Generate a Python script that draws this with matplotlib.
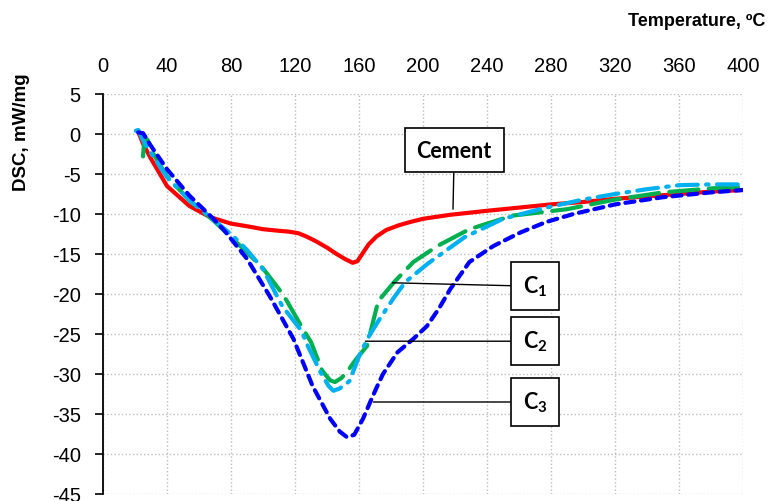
import matplotlib
matplotlib.use("Agg")
import matplotlib.pyplot as plt
import numpy as np

plt.rcParams['font.family'] = ['Liberation Sans', 'DejaVu Sans']
plt.rcParams['axes.unicode_minus'] = False
plt.rcParams['mathtext.fontset'] = 'custom'
plt.rcParams['mathtext.bf'] = 'Lato:bold'
plt.rcParams['mathtext.rm'] = 'Lato'

# DSC curves
cement_t = [22, 25, 30, 40, 54, 67, 80, 92, 100, 110, 116, 122, 127, 133, 140, 146, 151, 156,
            159, 162, 166, 171, 177, 185, 192, 200, 217, 240, 260, 280, 300, 320, 340, 360,
            380, 400]
cement_dsc = [0.3, -1.2, -3.1, -6.5, -9.0, -10.4, -11.2, -11.6, -11.9, -12.1, -12.2, -12.4,
              -12.8, -13.4, -14.2, -15.0, -15.6, -16.1, -15.9, -15.0, -13.8, -12.8, -12.0,
              -11.4, -11.0, -10.6, -10.1, -9.6, -9.2, -8.8, -8.5, -8.1, -7.8, -7.5, -7.2,
              -7.0]

c1_t = [25, 26, 28, 30, 40, 54, 69, 80, 90, 100, 110, 115, 125, 130, 137, 142, 145, 149,
        153, 158, 165, 172, 182, 194, 209, 229, 256, 290, 320, 350, 380, 400]
c1_dsc = [-2.8, -0.3, -0.8, -2.0, -5.3, -8.3, -10.8, -12.9, -14.8, -16.8, -19.4, -20.9,
          -24.4, -26.0, -29.6, -30.8, -31.0, -30.5, -29.6, -28.2, -26.5, -20.9, -18.5,
          -16.0, -14.0, -11.9, -10.2, -9.4, -8.2, -7.3, -6.8, -6.6]

c2_t = [20.5, 22, 25, 30, 40, 54, 61, 81, 90, 100, 112, 124, 128, 136, 141, 144, 148, 154,
        161, 167, 173, 182, 189, 203, 226, 250, 277, 300, 320, 340, 360, 380, 400]
c2_dsc = [0.4, 0.5, -0.8, -2.4, -5.4, -8.3, -9.4, -12.7, -14.5, -16.9, -21.5, -24.6, -26.5,
          -29.8, -31.5, -32.1, -31.8, -30.9, -27.3, -25.0, -23.1, -20.4, -18.5, -16.2, -12.9,
          -10.6, -9.2, -8.2, -7.5, -6.9, -6.4, -6.3, -6.3]

c3_t = [22, 25, 30, 40, 54, 69, 76, 90, 104, 119, 131, 142, 148, 152.5, 157, 162.5, 167,
        171, 175, 184, 194, 202.5, 210, 217, 229, 244, 261, 277, 294, 320, 350, 380, 400]
c3_dsc = [0.2, 0.1, -1.5, -4.4, -7.7, -10.6, -12.1, -15.6, -20.2, -25.6, -31.5, -35.6, -37.2,
          -37.9, -37.6, -35.6, -33.5, -31.7, -30.0, -27.3, -25.6, -24.0, -21.8, -19.4, -16.0,
          -14.0, -12.3, -11.0, -10.0, -8.8, -7.9, -7.3, -7.0]

fig = plt.figure(figsize=(7.68, 5.02), dpi=100)
ax = fig.add_axes([103 / 768, 1 - 495 / 502, 640 / 768, 400 / 502])

ax.plot(cement_t, cement_dsc, color='#ff0000', lw=3, solid_capstyle='round',
        solid_joinstyle='round', zorder=3)
ax.plot(c1_t, c1_dsc, color='#00b050', lw=3, dashes=[7, 2.5], dash_capstyle='round', zorder=4)
ax.plot(c2_t, c2_dsc, color='#00b0f0', lw=3, dashes=[5, 2, 0.6, 2], dash_capstyle='round', zorder=5)
ax.plot(c3_t, c3_dsc, color='#0000ff', lw=3, dashes=[2.2, 1.6], dash_capstyle='round', zorder=6)

ax.set_xlim(0, 400)
ax.set_ylim(-45, 5)
ax.set_xticks(np.arange(0, 401, 40))
ax.set_yticks(np.arange(-45, 6, 5))
ax.xaxis.tick_top()
ax.tick_params(axis='x', length=0, pad=14, labelsize=14.5)
ax.tick_params(axis='y', length=6, width=1.2, direction='out', pad=10, labelsize=14.5)
for s in ['top', 'right', 'bottom']:
    ax.spines[s].set_visible(False)
ax.spines['left'].set_linewidth(1.3)
ax.grid(True, color='#bdbdbd', linestyle=':', linewidth=1.0)
ax.set_axisbelow(True)

fig.text(22 / 768, 1 - 132 / 502, 'DSC, mW/mg', rotation=90, ha='center', va='center',
         fontsize=13.5, fontweight='bold')
fig.text(765 / 768, 1 - 22 / 502, 'Temperature, ºC', ha='right', va='center',
         fontsize=13, fontweight='bold')

box = dict(boxstyle='square,pad=0.55', fc='white', ec='black', lw=1.2)
lbl = dict(fontsize=15.5, fontfamily='Lato', fontweight='bold', ha='center', va='center',
           bbox=box, zorder=10)
ax.annotate('Cement', xy=(218.75, -9.4), xytext=(219.4, -2.0),
            arrowprops=dict(arrowstyle='-', color='black', lw=1, relpos=(0.5, 0),
                            shrinkA=0, shrinkB=0), **lbl)
ax.annotate(r'C$_\mathbf{1}$', xy=(181, -18.6), xytext=(270, -19.0),
            arrowprops=dict(arrowstyle='-', color='black', lw=1, relpos=(0, 0.5),
                            shrinkA=0, shrinkB=0), **lbl)
ax.annotate(r'C$_\mathbf{2}$', xy=(164, -25.9), xytext=(270, -25.9),
            arrowprops=dict(arrowstyle='-', color='black', lw=1, relpos=(0, 0.5),
                            shrinkA=0, shrinkB=0), **lbl)
ax.annotate(r'C$_\mathbf{3}$', xy=(169, -33.5), xytext=(270, -33.5),
            arrowprops=dict(arrowstyle='-', color='black', lw=1, relpos=(0, 0.5),
                            shrinkA=0, shrinkB=0), **lbl)

fig.savefig('out.png', dpi=100)
